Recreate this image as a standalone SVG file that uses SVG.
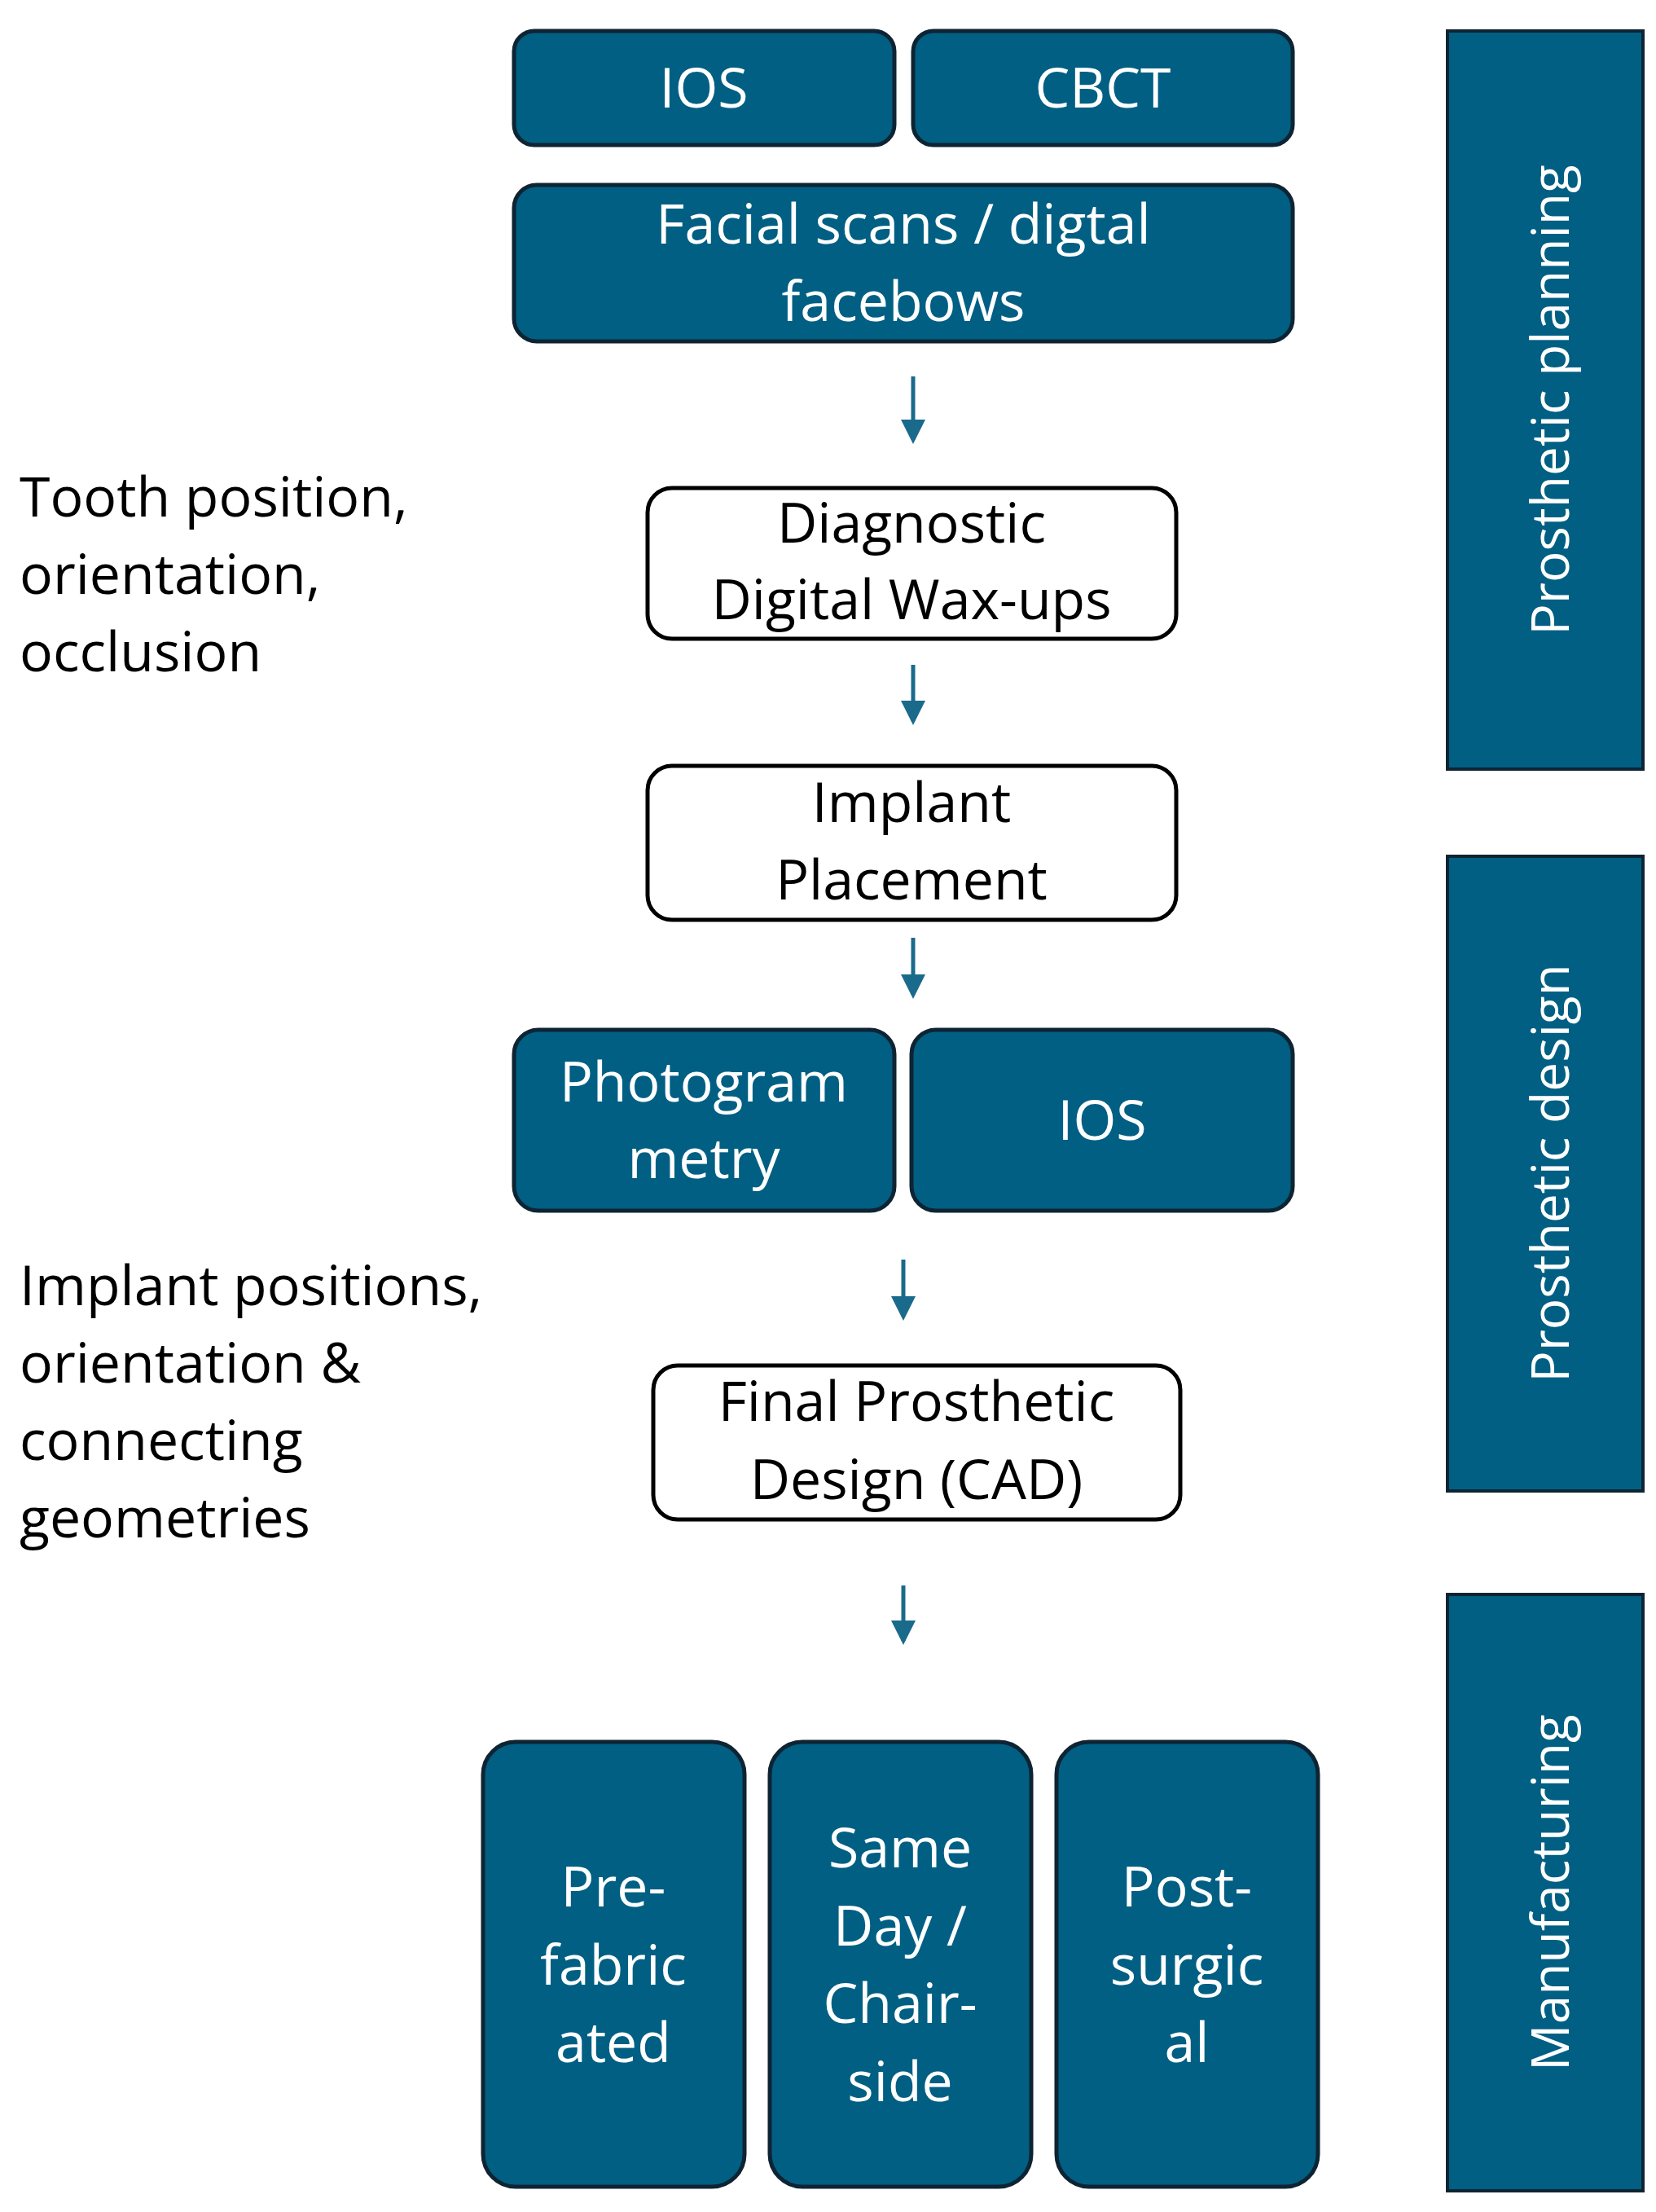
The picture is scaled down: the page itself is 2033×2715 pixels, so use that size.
<svg xmlns="http://www.w3.org/2000/svg" width="2033" height="2715" viewBox="0 0 2033 2715">
<style>
text{font-family:"Open Sans","Liberation Sans",sans-serif;font-size:68px;text-anchor:middle}
.f{fill:#005f83;stroke:#0e2433;stroke-width:5}
.w{fill:#fff;stroke:#000;stroke-width:5}
.t{fill:#fff}
.k{fill:#000}
.l{text-anchor:start}
.bar{fill:#005f83;stroke:#0e2433;stroke-width:4}
.c{stroke:#1a6a8c;stroke-width:5;fill:none;marker-end:url(#a)}
</style>
<defs><marker id="a" markerWidth="6" markerHeight="6" refX="5" refY="3" orient="auto" markerUnits="strokeWidth"><path d="M0,0 L6,3 L0,6 z" fill="#1a6a8c"/></marker></defs>
<rect width="2033" height="2715" fill="#fff"/>
<g id="ios1"><rect class="f" x="631" y="38" width="467" height="140" rx="25"/><text class="t" x="864" y="132">IOS</text></g>
<g id="cbct"><rect class="f" x="1121" y="38" width="466" height="140" rx="25"/><text class="t" x="1354" y="132">CBCT</text></g>
<g id="facial"><rect class="f" x="631" y="227" width="956" height="192" rx="28"/><text class="t" x="1109" y="299">Facial scans / digtal</text><text class="t" x="1109" y="394">facebows</text></g>
<g id="diag"><rect class="w" x="795" y="599" width="649" height="185" rx="30"/><text class="k" x="1119" y="666">Diagnostic</text><text class="k" x="1119" y="760">Digital Wax-ups</text></g>
<g id="implant"><rect class="w" x="795" y="940" width="649" height="189" rx="30"/><text class="k" x="1119" y="1009">Implant</text><text class="k" x="1119" y="1104">Placement</text></g>
<g id="photo"><rect class="f" x="631" y="1264" width="467" height="222" rx="30"/><text class="t" x="864" y="1352">Photogram</text><text class="t" x="864" y="1446">metry</text></g>
<g id="ios2"><rect class="f" x="1119" y="1264" width="468" height="222" rx="30"/><text class="t" x="1353" y="1399">IOS</text></g>
<g id="final"><rect class="w" x="802" y="1676" width="647" height="189" rx="30"/><text class="k" x="1125" y="1744">Final Prosthetic</text><text class="k" x="1125" y="1840">Design (CAD)</text></g>
<g id="pre"><rect class="f" x="593" y="2138" width="321" height="546" rx="40"/><text class="t" x="753" y="2340">Pre-</text><text class="t" x="753" y="2436">fabric</text><text class="t" x="753" y="2531">ated</text></g>
<g id="same"><rect class="f" x="945" y="2138" width="321" height="546" rx="40"/><text class="t" x="1105" y="2292">Same</text><text class="t" x="1105" y="2388">Day /</text><text class="t" x="1105" y="2483">Chair-</text><text class="t" x="1105" y="2579">side</text></g>
<g id="post"><rect class="f" x="1297" y="2138" width="321" height="546" rx="40"/><text class="t" x="1457" y="2340">Post-</text><text class="t" x="1457" y="2436">surgic</text><text class="t" x="1457" y="2531">al</text></g>
<g id="bar1"><rect class="bar" x="1777" y="38" width="240" height="906"/><text class="t" transform="translate(1926,491) rotate(-90)" style="font-size:64px">Prosthetic planning</text></g>
<g id="bar2"><rect class="bar" x="1777" y="1051" width="240" height="779"/><text class="t" transform="translate(1926,1440) rotate(-90)" style="font-size:64px">Prosthetic design</text></g>
<g id="bar3"><rect class="bar" x="1777" y="1957" width="240" height="732"/><text class="t" transform="translate(1926,2323) rotate(-90)" style="font-size:64px">Manufacturing</text></g>
<g id="lab1"><text class="k l" x="24" y="634">Tooth position,</text><text class="k l" x="24" y="729">orientation,</text><text class="k l" x="24" y="824">occlusion</text></g>
<g id="lab2"><text class="k l" x="24" y="1602">Implant positions,</text><text class="k l" x="24" y="1697">orientation &amp;</text><text class="k l" x="24" y="1792">connecting</text><text class="k l" x="24" y="1887">geometries</text></g>
<g id="connectors">
<line class="c" x1="1121" y1="462" x2="1121" y2="540"/>
<line class="c" x1="1121" y1="816" x2="1121" y2="885"/>
<line class="c" x1="1121" y1="1151" x2="1121" y2="1221"/>
<line class="c" x1="1109" y1="1546" x2="1109" y2="1616"/>
<line class="c" x1="1109" y1="1946" x2="1109" y2="2014"/>
</g>
</svg>
